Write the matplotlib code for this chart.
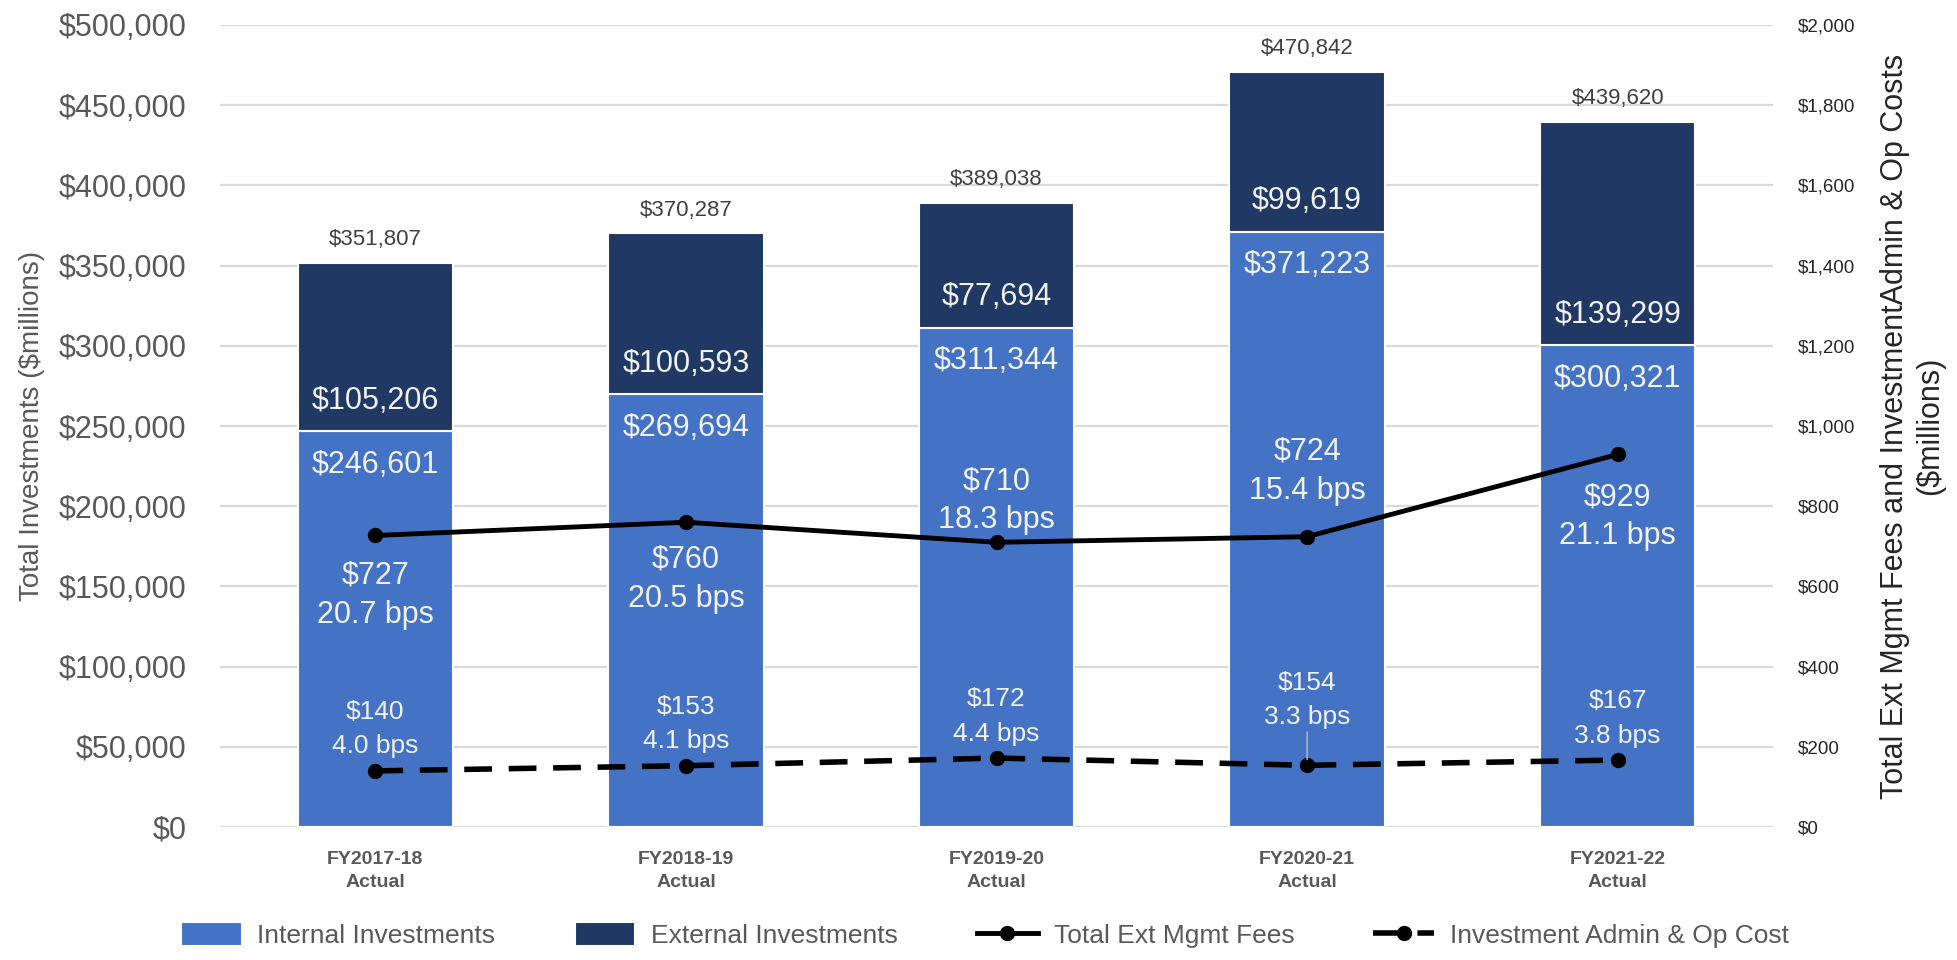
import numpy as np
import matplotlib
matplotlib.use('Agg')
import matplotlib.pyplot as plt
from matplotlib.ticker import FuncFormatter

# ==============================================================================
# Data
years = ['FY2017-18\nActual', 'FY2018-19\nActual', 'FY2019-20\nActual',
         'FY2020-21\nActual', 'FY2021-22\nActual']
internal = [246601, 269694, 311344, 371223, 300321]
external = [105206, 100593, 77694, 99619, 139299]
totals = [351807, 370287, 389038, 470842, 439620]
ext_fees = [727, 760, 710, 724, 929]
ext_bps = [20.7, 20.5, 18.3, 15.4, 21.1]
admin_cost = [140, 153, 172, 154, 167]
admin_bps = [4.0, 4.1, 4.4, 3.3, 3.8]

# label placement for the fee line (offset points, above/below point)
fee_offset = [-18, -16, 5, 22, -20]

# ==============================================================================
# Styles
FONT = ['Liberation Sans', 'DejaVu Sans']
NARROW = ['Liberation Sans Narrow', 'Liberation Sans', 'DejaVu Sans']
C_INT = '#4472C4'
C_EXT = '#203864'
C_GRID = '#D9D9D9'
C_TXT = '#595959'
C_IN = '#F2F2F2'
plt.rcParams['font.family'] = FONT

fig = plt.figure(figsize=(19.58, 9.6), dpi=100)
ax = fig.add_axes([0.1124, 0.1385, 0.7931, 0.8355])
ax2 = ax.twinx()

x = np.arange(len(years))
w = 0.5
ax.bar(x, internal, w, color=C_INT, edgecolor='white', linewidth=1.5, zorder=2,
       label='Internal Investments')
ax.bar(x, external, w, bottom=internal, color=C_EXT, edgecolor='white', linewidth=1.5,
       zorder=2, label='External Investments')

ax.set_xlim(-0.5, len(years) - 0.5)
ax.set_ylim(0, 500000)
ax.set_yticks(np.arange(0, 500001, 50000))
ax.yaxis.set_major_formatter(FuncFormatter(lambda v, p: f'${v:,.0f}'))
ax.tick_params(axis='y', labelsize=22, labelcolor=C_TXT, length=0, pad=24)
ax.tick_params(axis='x', length=0, pad=17)
ax.set_xticks(x)
ax.set_xticklabels(years, fontsize=14, fontweight='bold', color=C_TXT, linespacing=1.5)
ax.grid(axis='y', color=C_GRID, lw=1.6, zorder=0)
ax.set_axisbelow(True)
for s in ax.spines.values():
    s.set_visible(False)
ax.set_ylabel('Total Investments ($millions)', fontsize=20, color=C_TXT, labelpad=10)

ax2.set_ylim(0, 2000)
ax2.set_yticks(np.arange(0, 2001, 200))
ax2.yaxis.set_major_formatter(FuncFormatter(lambda v, p: f'${v:,.0f}'))
ax2.tick_params(axis='y', labelsize=13.5, labelcolor='#262626', length=0, pad=18)
for s in ax2.spines.values():
    s.set_visible(False)
ax2.set_ylabel('Total Ext Mgmt Fees and InvestmentAdmin & Op Costs\n($millions)',
               fontsize=22, family=NARROW, color='#262626', labelpad=18)

ax2.plot(x, ext_fees, color='black', lw=3.5, marker='o', ms=10, zorder=4,
         label='Total Ext Mgmt Fees')
ax2.plot(x, admin_cost, color='black', lw=4, marker='o', ms=10, zorder=4,
         dashes=(5, 3), label='Investment Admin & Op Cost')

# bar labels
for i in x:
    ax.annotate(f'${internal[i]:,}', (i, internal[i]), xytext=(0, -24), textcoords='offset points',
                ha='center', va='center', fontsize=22, color=C_IN, zorder=5)
    ax.annotate(f'${external[i]:,}', (i, internal[i]), xytext=(0, 22), textcoords='offset points',
                ha='center', va='center', fontsize=22, color=C_IN, zorder=5)
    ax.annotate(f'${totals[i]:,}', (i, totals[i]), xytext=(0, 9), textcoords='offset points',
                ha='center', va='bottom', fontsize=16, color='#404040', zorder=5)
    off = fee_offset[i]
    ax2.annotate(f'${ext_fees[i]}\n{ext_bps[i]:.1f} bps', (i, ext_fees[i]), xytext=(0, off),
                 textcoords='offset points', ha='center', va='top' if off < 0 else 'bottom',
                 fontsize=22, color=C_IN, linespacing=1.4, zorder=5)
    if i == 3:
        ax2.annotate(f'${admin_cost[i]}\n{admin_bps[i]:.1f} bps', (i, admin_cost[i]), xytext=(0, 26),
                     textcoords='offset points', ha='center', va='bottom', fontsize=19,
                     color=C_IN, linespacing=1.55, zorder=5,
                     arrowprops=dict(arrowstyle='-', color='#BFBFBF', lw=1, shrinkA=0, shrinkB=4))
    else:
        ax2.annotate(f'${admin_cost[i]}\n{admin_bps[i]:.1f} bps', (i, admin_cost[i]), xytext=(0, 9),
                     textcoords='offset points', ha='center', va='bottom', fontsize=19,
                     color=C_IN, linespacing=1.55, zorder=5)

h1, l1 = ax.get_legend_handles_labels()
h2, l2 = ax2.get_legend_handles_labels()
fig.legend(h1 + h2, l1 + l2, loc='center', bbox_to_anchor=(0.503, 0.026), ncol=4,
           frameon=False, fontsize=19, labelcolor=C_TXT, handlelength=2.3,
           handleheight=1.0, handletextpad=0.6, columnspacing=3.0)

plt.savefig('out.png', dpi=100)
